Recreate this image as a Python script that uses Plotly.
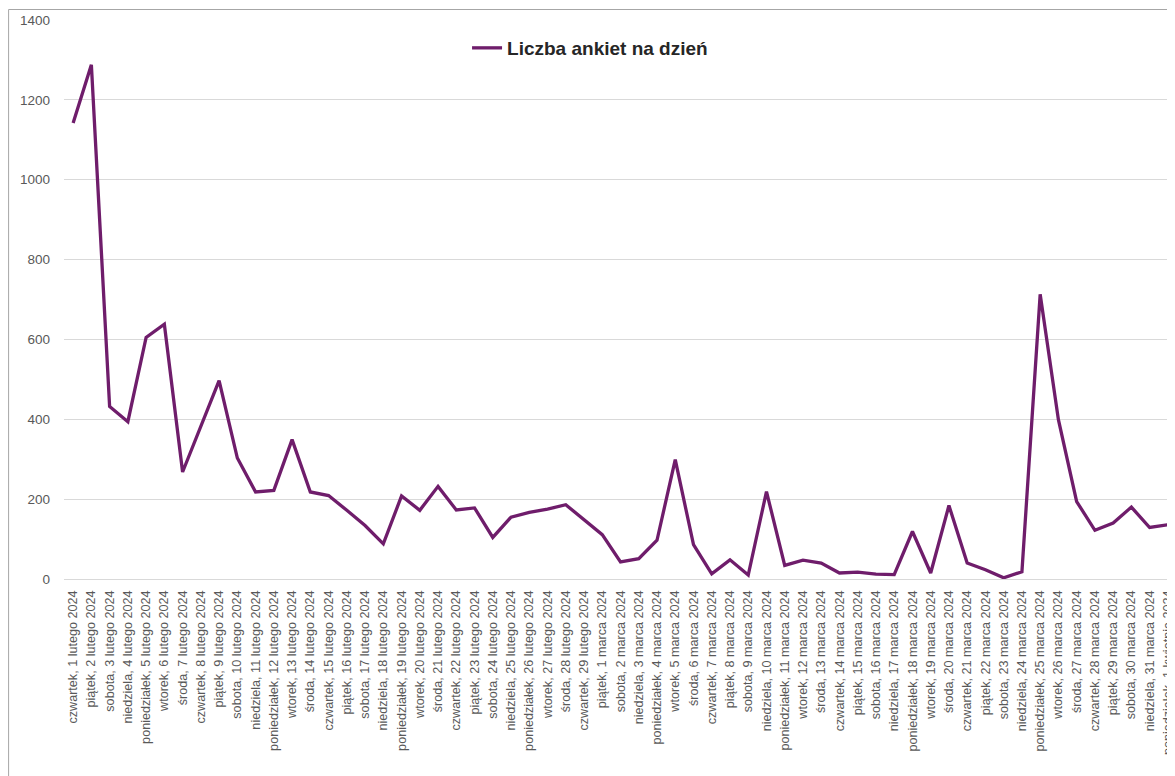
import plotly.graph_objects as go

dni = ["czwartek", "piątek", "sobota", "niedziela", "poniedziałek", "wtorek", "środa"]
luty_dni = list(range(1, 30))
marzec_dni = list(range(1, 32))

labels = []
di = 0
for d in luty_dni:
    labels.append(f"{dni[di % 7]}, {d} lutego 2024")
    di += 1
for d in marzec_dni:
    labels.append(f"{dni[di % 7]}, {d} marca 2024")
    di += 1
labels.append(f"{dni[di % 7]}, 1 kwietnia 2024")

values = [1142, 1288, 432, 394, 605, 638, 268, 382, 497, 303,
          218, 222, 349, 218, 209, 172, 134, 88, 208, 172,
          232, 173, 178, 104, 155, 167, 175, 186, 148, 111,
          43, 51, 97, 299, 86, 13, 48, 10, 219, 34,
          47, 40, 15, 17, 12, 11, 119, 15, 184, 40,
          23, 3, 18, 713, 399, 194, 122, 140, 180, 129,
          136]

series_name = "Liczba ankiet na dzień"
y_ticks = [0, 200, 400, 600, 800, 1000, 1200, 1400]

fig = go.Figure()
fig.add_trace(go.Scatter(
    x=list(range(len(values))), y=values, mode="lines",
    name="<b>" + series_name + "</b>",
    line=dict(color="#6F1D6B", width=3.3),
))

OFF = 8  # page body margin
W, H = 1175 - OFF, 776 - OFF
ml, mr, mt, mb = 64 - OFF, 0, 20 - OFF, 776 - 579
pw = W - ml - mr
ph = H - mt - mb

def px_x(p):
    return (p - OFF - ml) / pw

def px_y(p):
    return (H - mb - (p - OFF)) / ph

fig.update_layout(
    width=W, height=H,
    margin=dict(l=ml, r=mr, t=mt, b=mb, pad=0),
    paper_bgcolor="white", plot_bgcolor="white",
    font=dict(family="Liberation Sans, Arial, sans-serif", color="#595959"),
    showlegend=True,
    legend=dict(
        orientation="h", x=px_x(591), y=px_y(48), xanchor="center", yanchor="middle",
        font=dict(size=19, color="#262626", family="Liberation Sans, Arial, sans-serif"),
        itemwidth=30, bgcolor="rgba(0,0,0,0)",
    ),
    xaxis=dict(
        range=[-0.5, 60.28],
        tickmode="array", tickvals=list(range(len(labels))), ticktext=labels,
        tickangle=-90, tickfont=dict(size=12.6, color="#595959"),
        showgrid=False, zeroline=False, showline=False, ticks="",
        ticklabelstandoff=8, ticklabeloverflow="allow",
    ),
    yaxis=dict(
        range=[0, 1400], tickvals=y_ticks,
        tickfont=dict(size=13.5, color="#595959"),
        showgrid=True, gridcolor="#D9D9D9", gridwidth=1,
        zeroline=True, zerolinecolor="#D9D9D9", zerolinewidth=1,
        showline=False, ticks="", ticklabelstandoff=13,
    ),
    shapes=[
        dict(type="line", xref="paper", yref="paper",
             x0=px_x(8.5), x1=px_x(1300), y0=px_y(9.5), y1=px_y(9.5),
             line=dict(color="#A6A6A6", width=1)),
        dict(type="line", xref="paper", yref="paper",
             x0=px_x(8.5), x1=px_x(8.5), y0=px_y(9.5), y1=px_y(800),
             line=dict(color="#A6A6A6", width=1)),
    ],
)

fig.write_html("out.html")
